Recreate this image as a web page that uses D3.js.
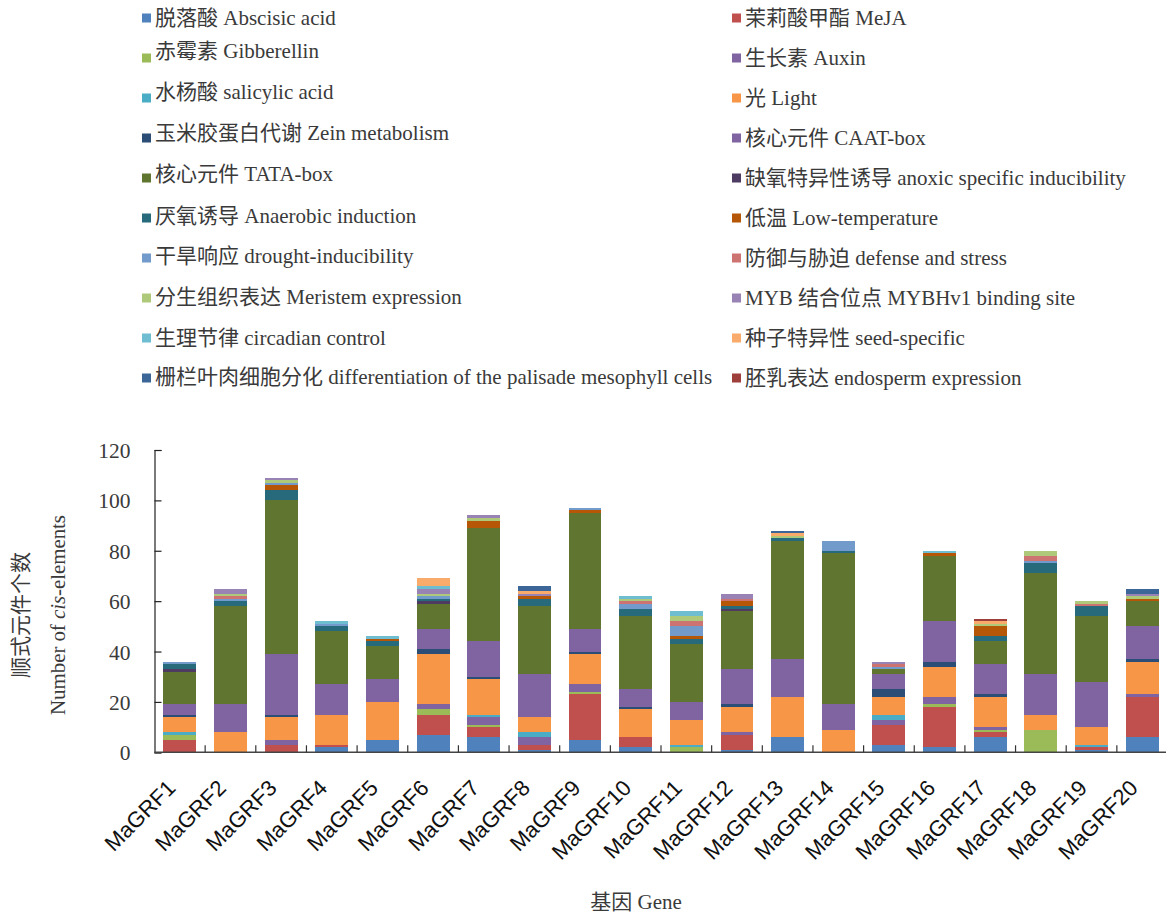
<!DOCTYPE html>
<html>
<head>
<meta charset="utf-8">
<script src="https://cdn.jsdelivr.net/npm/d3@7"></script>
<style>
  html, body { margin: 0; padding: 0; background: #fff; }
  svg { display: block; }
</style>
</head>
<body>
<svg id="chart" width="1166" height="917"></svg>
<script>
// Genes on the x axis
const genes = ["MaGRF1","MaGRF2","MaGRF3","MaGRF4","MaGRF5","MaGRF6","MaGRF7","MaGRF8","MaGRF9","MaGRF10",
               "MaGRF11","MaGRF12","MaGRF13","MaGRF14","MaGRF15","MaGRF16","MaGRF17","MaGRF18","MaGRF19","MaGRF20"];

// Element classes (stack order, bottom to top) and their legend labels
const seriesLabels = [
  "脱落酸 Abscisic acid", "茉莉酸甲酯 MeJA", "赤霉素 Gibberellin", "生长素 Auxin",
  "水杨酸 salicylic acid", "光 Light", "玉米胶蛋白代谢 Zein metabolism", "核心元件 CAAT-box",
  "核心元件 TATA-box", "缺氧特异性诱导 anoxic specific inducibility", "厌氧诱导 Anaerobic induction", "低温 Low-temperature",
  "干旱响应 drought-inducibility", "防御与胁迫 defense and stress", "分生组织表达 Meristem expression", "MYB 结合位点 MYBHv1 binding site",
  "生理节律 circadian control", "种子特异性 seed-specific", "栅栏叶肉细胞分化 differentiation of the palisade mesophyll cells", "胚乳表达 endosperm expression"
];
const seriesColors = [
  "#4F81BD", "#C0504D", "#9BBB59", "#8064A2",
  "#4BACC6", "#F79646", "#2C4D75", "#8064A2",
  "#5F7530", "#4D3B62", "#276A7C", "#B65708",
  "#729ACA", "#CD7371", "#AFC97A", "#9983B5",
  "#6FBDD1", "#F9AB6B", "#3C6698", "#9E3F3C"
];

// Counts of cis-elements per gene, one array per element class
const abscisic   = [0,0,0,2,5,7,6,1,5,2,0,1,6,0,3,2,6,0,1,6];
const meja       = [5,0,3,1,0,8,4,2,18,4,0,6,0,0,8,16,2,0,1,16];
const gibberellin= [2,0,0,0,0,2,1,0,1,0,2,0,0,0,0,1,1,9,0,0];
const auxin      = [0,0,2,0,0,2,3,3,3,0,0,1,0,0,2,3,1,0,0,1];
const salicylic  = [1,0,0,0,0,0,1,2,0,0,1,0,0,0,2,0,0,0,1,0];
const light      = [6,8,9,12,15,20,14,6,12,11,10,10,16,9,7,12,12,6,7,13];
const zein       = [1,0,1,0,0,2,1,0,1,1,0,1,0,0,3,2,1,0,0,1];
const caatBox    = [4,11,24,12,9,8,14,17,9,7,7,14,15,10,6,16,12,16,18,13];
const tataBox    = [13,39,61,21,13,10,45,27,46,29,23,23,47,60,2,26,9,40,26,10];
const anoxic     = [1,0,0,0,0,1,0,0,0,0,0,1,0,0,0,0,0,0,0,0];
const anaerobic  = [2,2,4,2,2,1,0,3,0,3,2,1,1,1,0,0,2,4,4,0];
const lowTemp    = [0,0,2,0,1,0,3,1,1,0,1,2,0,0,0,1,4,0,0,1];
const drought    = [1,1,1,1,0,1,0,0,1,2,4,0,0,4,1,0,0,1,0,0];
const defense    = [0,1,0,0,0,0,0,0,0,1,2,1,0,0,1,0,0,2,1,0];
const meristem   = [0,1,1,0,0,1,1,0,0,1,2,0,1,0,0,0,1,2,1,1];
const myb        = [0,2,1,0,0,2,1,1,0,0,0,2,0,0,1,0,0,0,0,1];
const circadian  = [0,0,0,1,1,1,0,0,0,1,2,0,0,0,0,1,0,0,0,0];
const seedSpec   = [0,0,0,0,0,3,0,1,0,0,0,0,1,0,0,0,1,0,0,0];
const palisade   = [0,0,0,0,0,0,0,2,0,0,0,0,1,0,0,0,0,0,0,2];
const endosperm  = [0,0,0,0,0,0,0,0,0,0,0,0,0,0,0,0,1,0,0,0];

const yTicks = [0, 20, 40, 60, 80, 100, 120];

const seriesValues = [abscisic, meja, gibberellin, auxin, salicylic, light, zein, caatBox, tataBox, anoxic,
  anaerobic, lowTemp, drought, defense, meristem, myb, circadian, seedSpec, palisade, endosperm];

// Table for d3.stack: one row per gene
const keys = seriesLabels.map((_, i) => "s" + i);
const rows = genes.map((g, gi) => {
  const r = { gene: g };
  seriesValues.forEach((arr, si) => { r["s" + si] = arr[gi]; });
  return r;
});
const stacked = d3.stack().keys(keys)(rows);

const svg = d3.select("#chart");
const serif = "'Liberation Serif', 'Times New Roman', 'Noto Sans CJK SC', serif";
const sans = "'Liberation Sans', Arial, sans-serif";
const textColor = "#3a3a3a";

// Plot area
const x0 = 154.5, x1 = 1167.5, yBottom = 752.3, yTop = 450;
const x = d3.scaleBand().domain(genes).range([x0, x1]).paddingInner(0.35).paddingOuter(0.175);
const y = d3.scaleLinear().domain([0, 120]).range([yBottom, yTop]);

// Bars
svg.append("g").selectAll("g")
  .data(stacked)
  .join("g")
  .attr("fill", (d, i) => seriesColors[i])
  .selectAll("rect")
  .data(d => d.filter(s => s[1] - s[0] > 0))
  .join("rect")
  .attr("x", d => x(d.data.gene))
  .attr("width", x.bandwidth())
  .attr("y", d => y(d[1]))
  .attr("height", d => y(d[0]) - y(d[1]))
  .attr("shape-rendering", "crispEdges");

// Y axis (ticks pointing into the plot)
const yAxis = svg.append("g")
  .attr("transform", `translate(${x0},0)`)
  .call(d3.axisLeft(y).tickValues(yTicks).tickSize(-7).tickPadding(24));
yAxis.select(".domain").attr("stroke", "#222").attr("stroke-width", 1.2);
yAxis.selectAll(".tick line").attr("stroke", "#222").attr("stroke-width", 1.2);
yAxis.selectAll(".tick text")
  .attr("font-family", serif).attr("font-size", 21.5).attr("fill", textColor)
  .attr("dy", "0.35em");

// X axis line with category-separating ticks
const step = x.step();
svg.append("line")
  .attr("x1", x0).attr("x2", x1).attr("y1", yBottom).attr("y2", yBottom)
  .attr("stroke", "#444").attr("stroke-width", 1.5);
const sepTicks = genes.slice(0, -1).map(g => x(g) + x.bandwidth() / 2 + step / 2);
svg.append("g").selectAll("line")
  .data(sepTicks)
  .join("line")
  .attr("x1", d => d).attr("x2", d => d)
  .attr("y1", yBottom).attr("y2", yBottom - 7)
  .attr("stroke", "#333").attr("stroke-width", 1.2);

// Rotated gene labels
svg.append("g").selectAll("text")
  .data(genes)
  .join("text")
  .attr("transform", g => `translate(${x(g) + x.bandwidth() / 2 - 3},${yBottom + 37}) rotate(-45)`)
  .attr("text-anchor", "end")
  .attr("font-family", sans).attr("font-size", 22).attr("fill", "#111")
  .text(g => g);

// Axis titles
svg.append("text")
  .attr("x", 636).attr("y", 909)
  .attr("text-anchor", "middle")
  .attr("font-family", serif).attr("font-size", 21).attr("fill", textColor)
  .text("基因 Gene");

const yTitle = svg.append("g").attr("transform", "translate(0,615) rotate(-90)");
yTitle.append("text")
  .attr("x", 0).attr("y", 28)
  .attr("text-anchor", "middle")
  .attr("font-family", serif).attr("font-size", 21).attr("fill", textColor)
  .text("顺式元件个数");
const t2 = yTitle.append("text")
  .attr("x", -100).attr("y", 65)
  .attr("textLength", 200).attr("lengthAdjust", "spacing")
  .attr("font-family", serif).attr("font-size", 21).attr("fill", textColor);
t2.append("tspan").text("Number of ");
t2.append("tspan").attr("font-style", "italic").text("cis");
t2.append("tspan").text("-elements");

// Legend: two columns, items ordered row by row
const leftTextShift = [0, -7, -6, -5, -4, -2, -2, -1, 0, -1];
const legend = svg.append("g");
const legItems = legend.selectAll("g")
  .data(seriesLabels)
  .join("g")
  .attr("transform", (d, i) => {
    const col = i % 2, row = Math.floor(i / 2);
    return `translate(${col === 0 ? 142 : 732},${18 + row * 40})`;
  });
legItems.append("rect")
  .attr("x", 0).attr("y", -4.5).attr("width", 9).attr("height", 9)
  .attr("fill", (d, i) => seriesColors[i]);
legItems.append("text")
  .attr("x", 13)
  .attr("y", (d, i) => (i % 2 === 0 ? leftTextShift[Math.floor(i / 2)] : 0))
  .attr("dy", "0.35em")
  .attr("font-family", serif).attr("font-size", 21).attr("fill", textColor)
  .text(d => d);
</script>
</body>
</html>
